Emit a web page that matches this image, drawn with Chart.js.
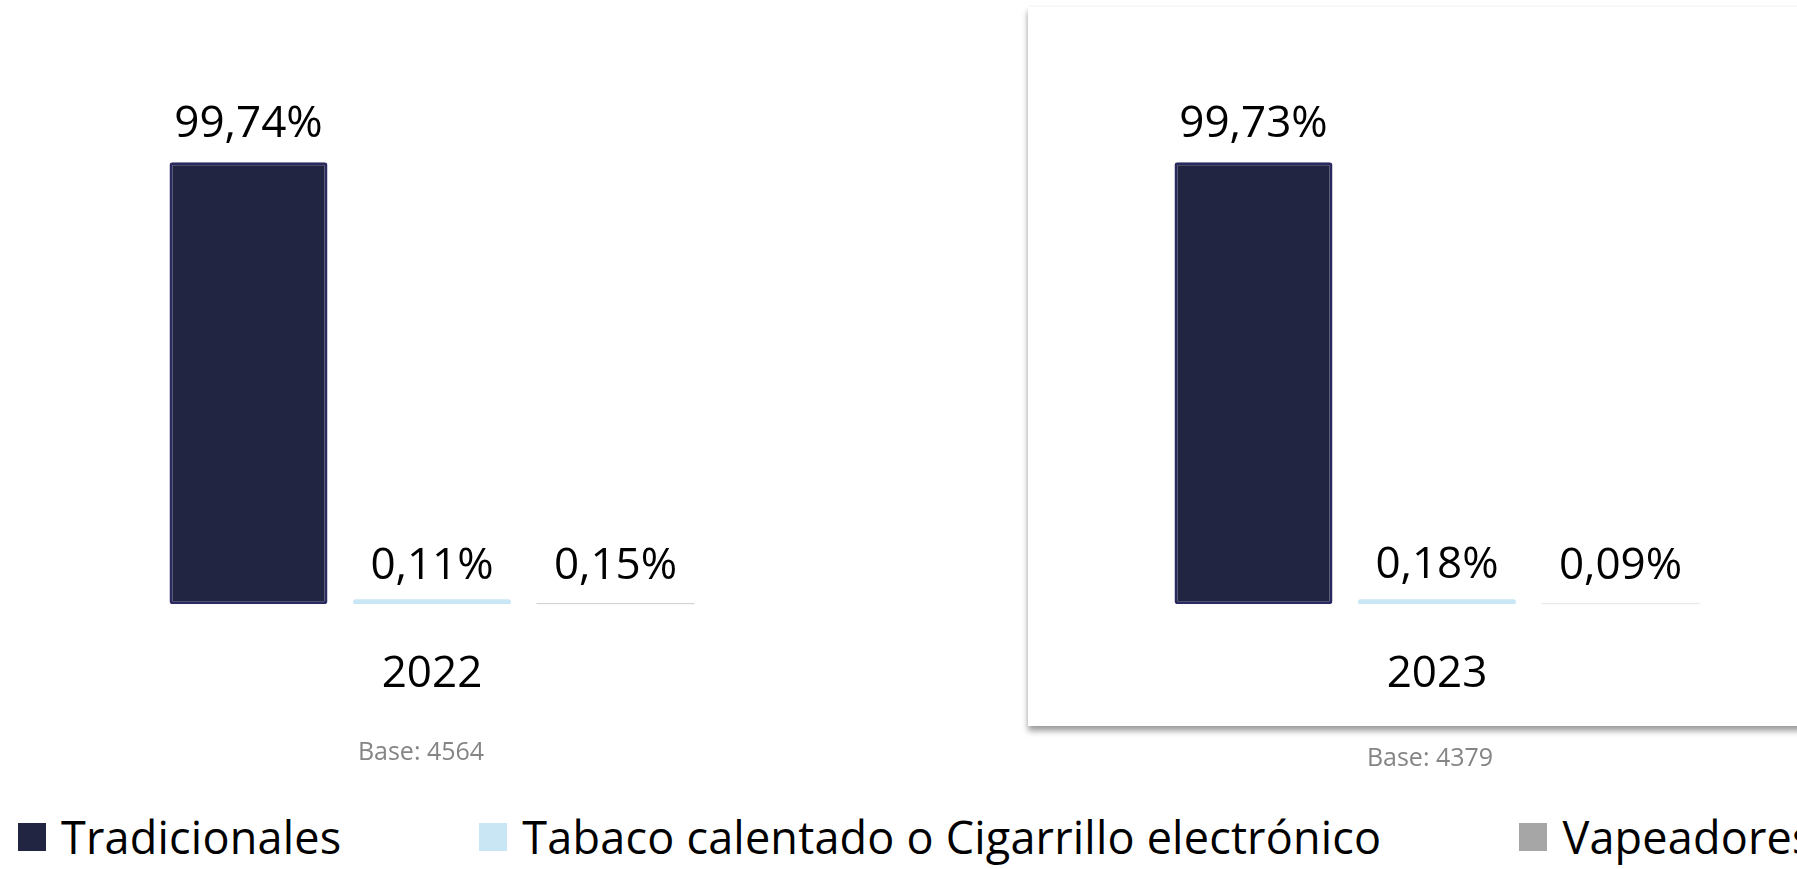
<!DOCTYPE html>
<html lang="es">
<head>
<meta charset="utf-8">
<title>Tipo de cigarrillo 2022 - 2023</title>
<script src="https://cdn.jsdelivr.net/npm/chart.js@4.4.1/dist/chart.umd.min.js"></script>
<style>
  html, body {
    margin: 0;
    padding: 0;
    width: 1797px;
    height: 869px;
    overflow: hidden;
    background: #ffffff;
    font-family: "Open Sans", "Noto Sans", sans-serif;
  }
  #page { position: relative; width: 1797px; height: 869px; overflow: hidden; }
  .card {
    position: absolute;
    left: 1028px; top: 7px;
    width: 820px; height: 719px;
    background: #ffffff;
    box-shadow: 0 5px 6px rgba(0,0,0,0.38), 0 0 4px rgba(0,0,0,0.06);
  }
  canvas { position: absolute; top: 0; }
  #chart2022 { left: 0; }
  #chart2023 { left: 1005px; }
  .base {
    position: absolute;
    transform: translateX(-50%);
    font-size: 25px;
    line-height: 30px;
    color: #858585;
    white-space: nowrap;
  }
  #legend {
    position: absolute;
    left: 18px; top: 806px;
    display: flex;
    align-items: center;
    gap: 138px;
    white-space: nowrap;
    font-size: 45px;
    letter-spacing: 0.2px;
    color: #000;
  }
  #legend .item { display: flex; align-items: center; }
  #legend .box { width: 28px; height: 28px; margin-right: 15px; flex: none; }
</style>
</head>
<body>
<div id="page">
  <div class="card"></div>
  <canvas id="chart2022" width="864" height="760"></canvas>
  <canvas id="chart2023" width="864" height="760"></canvas>
  <div class="base" id="base2022" style="left:421px; top:735px;"></div>
  <div class="base" id="base2023" style="left:1430px; top:741px;"></div>
  <div id="legend"></div>
</div>

<script>
// ===============================
// Data
// ===============================
const years = ["2022", "2023"];
const seriesNames = [
  "Tradicionales",
  "Tabaco calentado o Cigarrillo electrónico",
  "Vapeadores"
];
const tradicionales = [99.74, 99.73];
const tabacoCalentado = [0.11, 0.18];
const vapeadores = [0.15, 0.09];
const bases = [4564, 4379];

// ===============================
// Colors
// ===============================
const SERIES_COLORS = ["#222541", "#c9e6f5", "#a6a6a6"];
const FONT = "'Open Sans', 'Noto Sans', sans-serif";

function fmtPct(v) {
  return v.toFixed(2).replace(".", ",") + "%";
}

/* -----------------------------------------------------
   value labels above each bar
----------------------------------------------------- */
const barLabels = {
  id: "barLabels",
  afterDatasetsDraw(chart) {
    const ctx = chart.ctx;
    const yScale = chart.scales.y;
    ctx.save();
    ctx.font = "44px " + FONT;
    ctx.fillStyle = "#000";
    ctx.textAlign = "center";
    ctx.textBaseline = "alphabetic";
    chart.data.datasets.forEach((ds, di) => {
      const meta = chart.getDatasetMeta(di);
      meta.data.forEach((bar, i) => {
        const v = ds.data[i];
        const y = yScale.getPixelForValue(v);
        ctx.fillText(fmtPct(v), bar.x, y - 25);
      });
    });
    ctx.restore();
  }
};

/* -----------------------------------------------------
   one grouped bar chart per year
----------------------------------------------------- */
function makeYearChart(canvasId, idx) {
  const series = [tradicionales, tabacoCalentado, vapeadores];

  new Chart(document.getElementById(canvasId), {
    type: "bar",
    data: {
      labels: [years[idx]],
      datasets: series.map((s, si) => ({
        label: seriesNames[si],
        data: [s[idx]],
        backgroundColor: SERIES_COLORS[si],
        borderColor: si === 0 ? "#2b2a60" : SERIES_COLORS[si],
        borderWidth: si === 0 ? 3 : 0,
        borderRadius: si === 2 ? 0 : 3,
        borderSkipped: false,
        minBarLength: si === 1 ? 5 : 0
      }))
    },
    options: {
      responsive: false,
      animation: false,
      devicePixelRatio: 1,
      categoryPercentage: 0.6372,
      barPercentage: 0.861,
      layout: { padding: { top: 161, bottom: 23, left: 0, right: 0 } },
      plugins: {
        legend: { display: false },
        tooltip: { enabled: false }
      },
      scales: {
        x: {
          grid: { display: false },
          border: { display: false },
          ticks: {
            color: "#000",
            padding: 36,
            font: { family: FONT, size: 44 }
          }
        },
        y: {
          display: false,
          min: 0,
          max: 100
        }
      }
    },
    plugins: [barLabels]
  });
}

/* -----------------------------------------------------
   legend + base notes
----------------------------------------------------- */
function buildLegend() {
  const box = document.getElementById("legend");
  box.innerHTML = seriesNames
    .map((n, i) => `<div class="item"><span class="box" style="background:${SERIES_COLORS[i]}"></span><span>${n}</span></div>`)
    .join("");
}

function buildBases() {
  document.getElementById("base2022").textContent = "Base: " + bases[0];
  document.getElementById("base2023").textContent = "Base: " + bases[1];
}

makeYearChart("chart2022", 0);
makeYearChart("chart2023", 1);
buildLegend();
buildBases();
</script>
</body>
</html>
